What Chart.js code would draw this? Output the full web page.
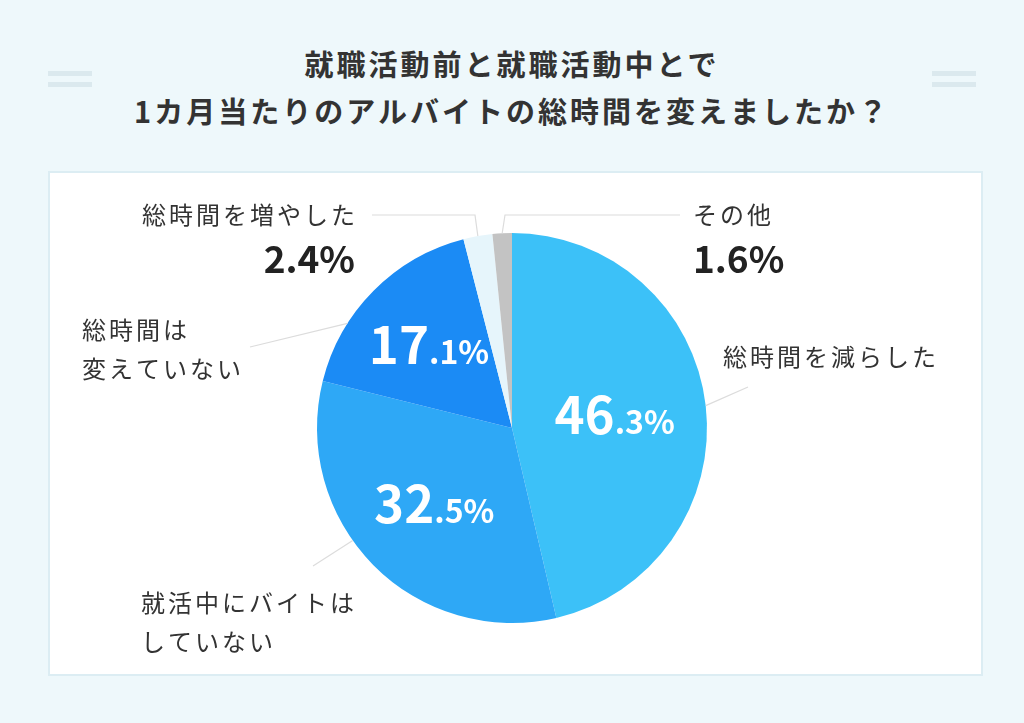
<!DOCTYPE html>
<html lang="ja">
<head>
<meta charset="utf-8">
<script src="https://cdn.jsdelivr.net/npm/chart.js@4/dist/chart.umd.min.js"></script>
<style>
  html, body { margin: 0; padding: 0; }
  body {
    width: 1024px; height: 723px; overflow: hidden; position: relative;
    background: #eef8fb;
    font-family: 'Noto Sans CJK JP', 'Noto Sans', sans-serif;
  }
  .title {
    position: absolute; left: 0; top: 40px; width: 1024px;
    text-align: center; font-size: 29px; font-weight: 700; color: #333;
    line-height: 47px; letter-spacing: 3px;
  }
  .deco { position: absolute; width: 44px; height: 5px; background: #dbe9ee; }
  .panel {
    position: absolute; left: 48px; top: 171px; width: 935px; height: 505px;
    background: #fff; border: 2px solid #dcedf3; box-sizing: border-box;
  }
  #wrap { position: absolute; left: 0; top: 0; width: 1024px; height: 723px; }
</style>
</head>
<body>
<div class="title">就職活動前と就職活動中とで<br>1カ月当たりのアルバイトの総時間を変えましたか？</div>
<div class="deco" style="left:48px;top:71px"></div>
<div class="deco" style="left:48px;top:82px"></div>
<div class="deco" style="left:932px;top:71px"></div>
<div class="deco" style="left:932px;top:82px"></div>
<div class="panel"></div>
<div id="wrap"><canvas id="pieChart"></canvas></div>
<script>
// 回答カテゴリと割合（%）
const categories = ['総時間を減らした', '就活中にバイトはしていない', '総時間は変えていない', '総時間を増やした', 'その他'];
const values = [46.3, 32.5, 17.1, 2.4, 1.6];
const sliceColors = ['#3cc1f8', '#2ea8f6', '#1b8bf5', '#e6f5fb', '#c3c3c3'];

// 外側ラベルの配置（テキスト位置・引き出し線）
const outerLabels = [
  { lines: ['総時間を減らした'], x: 723, y: 357, align: 'left', leader: [0.5, [748, 387]] },
  { lines: ['就活中にバイトは', 'していない'], x: 141, y: 603, align: 'left', leader: [0.58, [313, 566]] },
  { lines: ['総時間は', '変えていない'], x: 82, y: 330, align: 'left', leader: [0.3, [250, 347]] },
  { lines: ['総時間を増やした'], x: 358, y: 215, align: 'right', pct: true, leader: [0.5, [475, 215], [372, 215]] },
  { lines: ['その他'], x: 693, y: 215, align: 'left', pct: true, leader: [0.5, [505, 215], [680, 215]] }
];
// 内側ラベル（半径に対する割合）
const innerRadius = [0.53, 0.56, 0.6, null, null];

const font = "'Noto Sans CJK JP', 'Noto Sans', sans-serif";

function splitPct(v) {
  const s = v.toFixed(1).split('.');
  return [s[0], '.' + s[1] + '%'];
}

const labelPlugin = {
  id: 'pieLabels',
  afterDatasetsDraw(chart) {
    const ctx = chart.ctx;
    const arcs = chart.getDatasetMeta(0).data;
    ctx.save();
    arcs.forEach((arc, i) => {
      const p = arc.getProps(['x', 'y', 'startAngle', 'endAngle', 'outerRadius']);
      const lab = outerLabels[i];
      // 引き出し線
      const a = p.startAngle + (p.endAngle - p.startAngle) * lab.leader[0];
      ctx.strokeStyle = '#dcdcdc';
      ctx.lineWidth = 1.2;
      ctx.beginPath();
      ctx.moveTo(p.x + Math.cos(a) * p.outerRadius, p.y + Math.sin(a) * p.outerRadius);
      for (let k = 1; k < lab.leader.length; k++) ctx.lineTo(lab.leader[k][0], lab.leader[k][1]);
      ctx.stroke();

      // 外側テキスト
      ctx.fillStyle = '#333';
      ctx.textAlign = lab.align;
      ctx.textBaseline = 'middle';
      ctx.letterSpacing = '3px';
      ctx.font = '400 24px ' + font;
      lab.lines.forEach((t, j) => ctx.fillText(t, lab.x, lab.y + j * 39));
      ctx.letterSpacing = '0px';
      if (lab.pct) {
        ctx.fillStyle = '#222';
        ctx.font = '700 37px ' + font;
        ctx.fillText(values[i].toFixed(1) + '%', lab.align === 'right' ? lab.x - 3 : lab.x, lab.y + 44);
      }

      // 内側の数値
      if (innerRadius[i] !== null) {
        const m = (p.startAngle + p.endAngle) / 2;
        const cx = p.x + Math.cos(m) * p.outerRadius * innerRadius[i];
        const cy = p.y + Math.sin(m) * p.outerRadius * innerRadius[i];
        const [big, small] = splitPct(values[i]);
        ctx.fillStyle = '#fff';
        ctx.textBaseline = 'alphabetic';
        ctx.textAlign = 'left';
        ctx.font = '700 51px ' + font;
        const wb = ctx.measureText(big).width;
        ctx.font = '700 32px ' + font;
        const ws = ctx.measureText(small).width;
        const x0 = cx - (wb + ws) / 2;
        ctx.font = '700 51px ' + font;
        ctx.fillText(big, x0, cy + 18);
        ctx.font = '700 32px ' + font;
        ctx.fillText(small, x0 + wb, cy + 18);
      }
    });
    ctx.restore();
  }
};

new Chart(document.getElementById('pieChart').getContext('2d'), {
  type: 'pie',
  data: {
    labels: categories,
    datasets: [{
      data: values,
      backgroundColor: sliceColors,
      borderWidth: 0
    }]
  },
  options: {
    responsive: true,
    maintainAspectRatio: false,
    animation: false,
    layout: { padding: { top: 233, bottom: 100, left: 317, right: 317 } },
    plugins: {
      legend: { display: false },
      tooltip: { enabled: false }
    }
  },
  plugins: [labelPlugin]
});
</script>
</body>
</html>
